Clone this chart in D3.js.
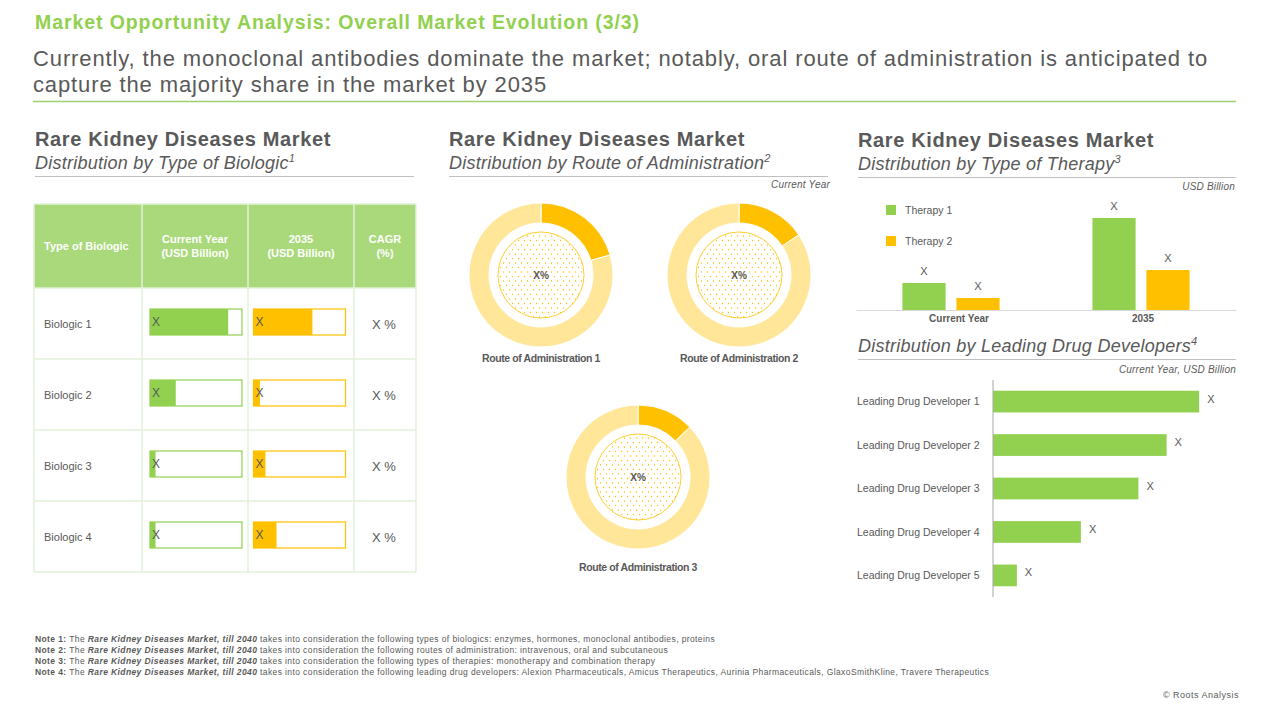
<!DOCTYPE html>
<html>
<head>
<meta charset="utf-8">
<script src="https://cdn.jsdelivr.net/npm/d3@7"></script>
<style>
  body { margin: 0; background: #fff; }
  svg { display: block; font-family: "Liberation Sans", Arial, sans-serif; }
  text { fill: #595959; }
</style>
</head>
<body>
<div id="chart"></div>
<script>
// ---- data ----
const biologics = ["Biologic 1", "Biologic 2", "Biologic 3", "Biologic 4"];
const biologicCurrent = [85, 28, 6, 6];      // share of bar box filled
const biologic2035 = [64, 7, 13, 25];
const biologicCagr = ["X %", "X %", "X %", "X %"];
const tableHeaders = [["Type of Biologic"], ["Current Year", "(USD Billion)"], ["2035", "(USD Billion)"], ["CAGR", "(%)"]];

const routes = ["Route of Administration 1", "Route of Administration 2", "Route of Administration 3"];
const routeShares = [20.5, 15.6, 12.8];

const therapyYears = ["Current Year", "2035"];
const therapies = ["Therapy 1", "Therapy 2"];
const therapyValues = [[2.7, 1.2], [9.2, 4.0]];

const developers = ["Leading Drug Developer 1", "Leading Drug Developer 2", "Leading Drug Developer 3",
                    "Leading Drug Developer 4", "Leading Drug Developer 5"];
const developerValues = [9.5, 8.0, 6.7, 4.05, 1.1];

const notes = [
    "the following types of biologics: enzymes, hormones, monoclonal antibodies, proteins",
    "the following routes of administration: intravenous, oral and subcutaneous",
    "the following types of therapies: monotherapy and combination therapy",
    "the following leading drug developers: Alexion Pharmaceuticals, Amicus Therapeutics, Aurinia Pharmaceuticals, GlaxoSmithKline, Travere Therapeutics"
];

const GREEN = "#92d050", YELLOW = "#ffc000", LIGHT_YELLOW = "#ffe699", GRID = "#e2f0d9";

const svg = d3.select("#chart").append("svg").attr("width", 1280).attr("height", 720);

// stretch a text's letter spacing so it spans the given width (slide text is set looser)
function fit(sel, width) {
    const node = sel.node();
    const len = node.getComputedTextLength();
    sel.attr("letter-spacing", (width - len) / node.textContent.length);
    return sel;
}

// ---- header ----
fit(svg.append("text").attr("x", 35).attr("y", 29)
    .style("font-size", "19.5px").style("font-weight", "bold").style("fill", GREEN)
    .text("Market Opportunity Analysis: Overall Market Evolution (3/3)"), 605);
const sub = svg.append("text").style("font-size", "22px");
fit(sub.append("tspan").attr("x", 33).attr("y", 66)
    .text("Currently, the monoclonal antibodies dominate the market; notably, oral route of administration is anticipated to"), 1175);
fit(sub.append("tspan").attr("x", 33).attr("y", 92).text("capture the majority share in the market by 2035"), 514);
svg.append("line").attr("x1", 33).attr("x2", 1236).attr("y1", 101.5).attr("y2", 101.5)
    .attr("stroke", "#9dd070").attr("stroke-width", 1.3);

function sectionTitle(x, y, x2, title, sup, bold = true) {
    if (bold) {
        fit(svg.append("text").attr("x", x).attr("y", y)
            .style("font-size", "20px").style("font-weight", "bold").text("Rare Kidney Diseases Market"), 296);
    }
    const t = svg.append("text").attr("x", x).attr("y", bold ? y + 23 : y)
        .style("font-size", "18px").style("font-style", "italic").attr("letter-spacing", 0.25);
    t.append("tspan").text(title);
    t.append("tspan").attr("dy", -7).style("font-size", "11px").text(sup);
    const ly = (bold ? y + 23 : y) + 7.5;
    svg.append("line").attr("x1", x).attr("x2", x2).attr("y1", ly).attr("y2", ly)
        .attr("stroke", "#bfbfbf").attr("stroke-width", 1);
}

function unitLabel(x, y, txt) {
    svg.append("text").attr("x", x).attr("y", y).attr("text-anchor", "end")
        .style("font-size", "10px").style("font-style", "italic").attr("letter-spacing", 0.2).text(txt);
}

// ---- panel 1: table ----
sectionTitle(35, 146, 414, "Distribution by Type of Biologic", "1");

const colEdges = [34, 142, 248, 354, 416];
const rowY = d3.scaleBand().domain(biologics).range([288, 572]);
const table = svg.append("g");

table.append("rect").attr("x", 34).attr("y", 204).attr("width", 382).attr("height", 84).attr("fill", "#a9d97a");
tableHeaders.forEach((lines, i) => {
    const left = i === 0;
    const cx = left ? colEdges[0] + 10 : (colEdges[i] + colEdges[i + 1]) / 2;
    const t = table.append("text").attr("text-anchor", left ? "start" : "middle")
        .style("font-size", "11px").style("font-weight", "bold").style("fill", "#fff");
    lines.forEach((ln, j) => {
        t.append("tspan").attr("x", cx).attr("y", (lines.length === 1 ? 250 : 243) + j * 13.5).text(ln);
    });
});

// grid
colEdges.forEach(x => table.append("line").attr("x1", x).attr("x2", x).attr("y1", 204).attr("y2", 572)
    .attr("stroke", GRID).attr("stroke-width", 1.5));
[204, 288].concat(biologics.map(b => rowY(b) + rowY.bandwidth())).forEach(y =>
    table.append("line").attr("x1", 34).attr("x2", 416).attr("y1", y).attr("y2", y)
        .attr("stroke", GRID).attr("stroke-width", 1.5));

const boxW = 92, boxH = 26;
const fillScale = d3.scaleLinear().domain([0, 100]).range([0, boxW]);

function barCell(x, values, color) {
    const g = table.selectAll(null).data(values).join("g")
        .attr("transform", (d, i) => `translate(${x},${rowY(biologics[i]) + 21})`);
    g.append("rect").attr("width", boxW).attr("height", boxH).attr("fill", "#fff")
        .attr("stroke", color).attr("stroke-width", 1.2);
    g.append("rect").attr("width", d => fillScale(d)).attr("height", boxH).attr("fill", color);
    g.append("text").attr("x", 2).attr("y", 17).style("font-size", "12px").text("X");
}
barCell(150, biologicCurrent, GREEN);
barCell(253.5, biologic2035, YELLOW);

table.selectAll(null).data(biologics).join("text")
    .attr("x", 44).attr("y", d => rowY(d) + rowY.bandwidth() / 2 + 4)
    .style("font-size", "11px").text(d => d);
table.selectAll(null).data(biologicCagr).join("text")
    .attr("x", 384).attr("y", (d, i) => rowY(biologics[i]) + rowY.bandwidth() / 2 + 5)
    .attr("text-anchor", "middle").style("font-size", "13px").text(d => d);

// ---- panel 2: donuts ----
sectionTitle(449, 146, 828, "Distribution by Route of Administration", "2");
unitLabel(830, 188, "Current Year");

const defs = svg.append("defs");
const pat = defs.append("pattern").attr("id", "dots").attr("patternUnits", "userSpaceOnUse")
    .attr("width", 6).attr("height", 9);
pat.append("rect").attr("width", 6).attr("height", 9).attr("fill", "#fff");
pat.append("circle").attr("cx", 1.5).attr("cy", 1.5).attr("r", 0.7).attr("fill", YELLOW);
pat.append("circle").attr("cx", 4.5).attr("cy", 6).attr("r", 0.7).attr("fill", YELLOW);

const donutLayout = [[541, 275, 87], [739, 275, 87], [638, 477, 94]];   // cx, cy, label offset
const arc = d3.arc().innerRadius(52).outerRadius(72);
const pie = d3.pie().sort(null).value(d => d);

routes.forEach((r, i) => {
    const [cx, cy, lo] = donutLayout[i];
    const g = svg.append("g").attr("transform", `translate(${cx},${cy})`);
    g.selectAll("path").data(pie([routeShares[i], 100 - routeShares[i]])).join("path")
        .attr("d", arc).attr("fill", (d, j) => j === 0 ? YELLOW : LIGHT_YELLOW)
        .attr("stroke", "#fff").attr("stroke-width", 1);
    g.append("circle").attr("r", 43).attr("fill", "url(#dots)").attr("stroke", YELLOW).attr("stroke-width", 0.8);
    g.append("text").attr("y", 3.5).attr("text-anchor", "middle")
        .style("font-size", "10px").style("font-weight", "bold").text("X%");
    fit(g.append("text").attr("y", lo).attr("text-anchor", "middle")
        .style("font-size", "10.5px").style("font-weight", "bold").text(r), 118);
});

// ---- panel 3: therapy bars ----
sectionTitle(858, 147, 1236, "Distribution by Type of Therapy", "3");
unitLabel(1235, 190, "USD Billion");

const tx = d3.scaleBand().domain(therapyYears).range([856, 1236]);
const tInner = d3.scaleBand().domain(therapies).range([0, tx.bandwidth()]).paddingInner(0.2).paddingOuter(0.86);
const ty = d3.scaleLinear().domain([0, 10]).range([310, 210]);
const tColor = d3.scaleOrdinal().domain(therapies).range([GREEN, YELLOW]);

const tg = svg.append("g").selectAll("g").data(therapyYears).join("g")
    .attr("transform", d => `translate(${tx(d)},0)`);
const tb = tg.selectAll("g").data((d, i) => therapies.map((t, j) => ({ t, v: therapyValues[i][j] }))).join("g");
tb.append("rect").attr("x", d => tInner(d.t)).attr("width", tInner.bandwidth())
    .attr("y", d => ty(d.v)).attr("height", d => ty(0) - ty(d.v)).attr("fill", d => tColor(d.t));
tb.append("text").attr("x", d => tInner(d.t) + tInner.bandwidth() / 2).attr("y", d => ty(d.v) - 8)
    .attr("text-anchor", "middle").style("font-size", "11px").text("X");

const tAxis = svg.append("g").attr("transform", "translate(0,310)")
    .call(d3.axisBottom(tx).tickSize(0).tickPadding(5));
tAxis.select(".domain").attr("stroke", "#d9d9d9");
tAxis.selectAll("text").style("font-size", "10px").style("font-weight", "bold").style("fill", "#595959")
    .attr("font-family", null).attr("dx", (d, i) => i === 0 ? 8 : 2);

const legend = svg.append("g").selectAll("g").data(therapies).join("g")
    .attr("transform", (d, i) => `translate(886,${205 + i * 31})`);
legend.append("rect").attr("width", 10).attr("height", 10).attr("fill", d => tColor(d));
legend.append("text").attr("x", 19).attr("y", 8.5).style("font-size", "10.5px").text(d => d);

// ---- panel 4: developers ----
sectionTitle(858, 352, 1236, "Distribution by Leading Drug Developers", "4", false);
unitLabel(1236, 373, "Current Year, USD Billion");

const dy = d3.scaleBand().domain(developers).range([369, 608]).padding(0.5);
const dx = d3.scaleLinear().domain([0, 10]).range([993, 1210]);

const dg = svg.append("g");
dg.selectAll("rect").data(developers).join("rect")
    .attr("x", dx(0)).attr("y", d => dy(d)).attr("height", dy.bandwidth())
    .attr("width", (d, i) => dx(developerValues[i]) - dx(0)).attr("fill", GREEN);
dg.selectAll(".val").data(developers).join("text")
    .attr("x", (d, i) => dx(developerValues[i]) + 8).attr("y", d => dy(d) + dy.bandwidth() / 2 + 1)
    .style("font-size", "11px").text("X");
const dAxis = svg.append("g").attr("transform", `translate(${dx(0)},0)`)
    .call(d3.axisLeft(dy).tickSize(0).tickPadding(0));
dAxis.select(".domain").attr("stroke", "#a6a6a6").attr("d", "M0,380V597");
dAxis.selectAll("text").attr("text-anchor", "start").attr("x", 857 - dx(0)).attr("dy", "0.35em")
    .style("font-size", "10.5px").style("fill", "#595959").attr("font-family", null);

// ---- notes ----
const ng = svg.append("g").style("font-size", "8.5px");
const noteRows = notes.map((n, i) => {
    const t = ng.append("text").attr("x", 35).attr("y", 641.5 + i * 11.3);
    t.append("tspan").style("font-weight", "bold").text(`Note ${i + 1}:`);
    t.append("tspan").text(" The ");
    t.append("tspan").style("font-weight", "bold").style("font-style", "italic").text("Rare Kidney Diseases Market, till 2040");
    t.append("tspan").text(" takes into consideration " + n);
    return t;
});
const last = noteRows[noteRows.length - 1].node();
const noteSpacing = (954 - last.getComputedTextLength()) / last.textContent.length;
noteRows.forEach(t => t.attr("letter-spacing", noteSpacing));

fit(svg.append("text").attr("x", 1163).attr("y", 698)
    .style("font-size", "9px").text("© Roots Analysis"), 76);
</script>
</body>
</html>
